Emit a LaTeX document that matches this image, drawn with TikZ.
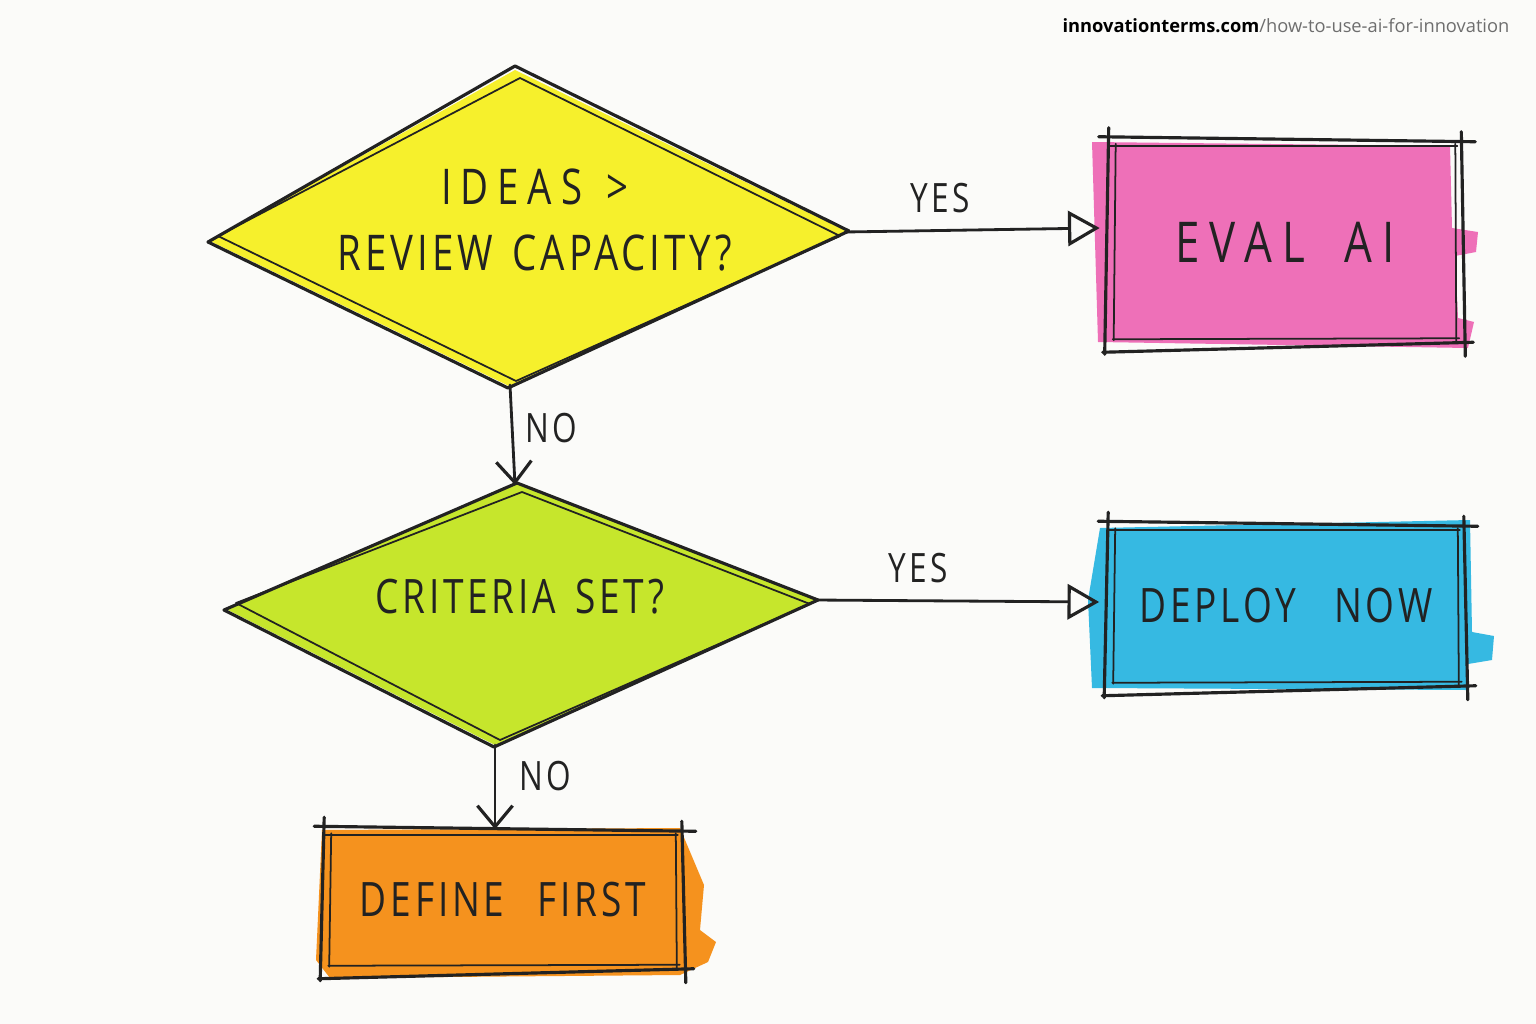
\documentclass[tikz,border=0pt]{standalone}
\usepackage{fontspec}
\setmainfont{Open Sans}
\newfontfamily\hand{Open Sans}[FakeStretch=0.78,LetterSpace=8]
\newfontfamily\handwide{Open Sans}[FakeStretch=0.78,LetterSpace=18]
\usetikzlibrary{arrows.meta}
\definecolor{bg}{HTML}{FBFBF9}
\definecolor{ideay}{HTML}{F6F02C}
\definecolor{lime}{HTML}{C6E62C}
\definecolor{pinkm}{HTML}{EE70B8}
\definecolor{cyanm}{HTML}{36B9E2}
\definecolor{orangem}{HTML}{F5921E}
\definecolor{inkc}{HTML}{222222}
\definecolor{urlgray}{HTML}{6E6E6E}
\begin{document}
\begin{tikzpicture}[x=0.01cm,y=-0.01cm,
  ink/.style={draw=inkc, line width=0.9pt, line join=round, line cap=round},
  thinink/.style={draw=inkc, line width=0.5pt, line join=round, line cap=round},
  box/.style={inner sep=0pt, text=inkc},
  lbl/.style={font=\hand\fontsize{11.5}{13}\selectfont, text=inkc},
  arr/.style={draw=inkc, line width=0.8pt, line cap=round, -{Triangle[open, length=9pt, width=10pt, line width=0.9pt]}},
  darr/.style={draw=inkc, line width=0.8pt, line cap=round, -{Straight Barb[length=6pt, width=10pt, line width=0.9pt]}}]
\useasboundingbox (0,0) rectangle (1536,1024);
\fill[bg] (0,0) rectangle (1536,1024);

% URL
\node[anchor=base east, inner sep=0pt, font=\fontsize{5.2}{6}\selectfont] (url) at (1510,32)
  {\textbf{innovationterms.com}\textcolor{urlgray}{/how-to-use-ai-for-innovation}};

% ---------- diamond 1 ----------
\coordinate (d1l) at (212,240);
\coordinate (d1t) at (515,72);
\coordinate (d1r) at (845,232);
\coordinate (d1b) at (510,385);
\fill[ideay] (210,241) -- (515,70) -- (846,231) -- (509,386) -- cycle;
\draw[ink] (208,242) -- (515,66) -- (849,231) -- (508,388) -- cycle;
\draw[thinink] (218,236) -- (520,78) -- (840,236) -- (516,381) -- cycle;
\node[font=\hand\fontsize{14}{19}\selectfont, text=inkc, align=center] (q1) at (535,220)
  {{\handwide IDEAS\hspace{0.5em}>}\\REVIEW\hspace{0.4em}CAPACITY?};

% ---------- diamond 2 ----------
\coordinate (d2l) at (228,608);
\coordinate (d2t) at (515,485);
\coordinate (d2r) at (815,600);
\coordinate (d2b) at (495,745);
\fill[lime] (226,609) -- (516,484) -- (816,600) -- (495,745) -- cycle;
\draw[ink] (224,610) -- (517,483) -- (818,600) -- (494,747) -- cycle;
\draw[thinink] (236,603) -- (522,492) -- (810,604) -- (500,740) -- cycle;
\node[font=\hand\fontsize{13.5}{18}\selectfont, text=inkc] (q2) at (520,597) {CRITERIA\hspace{0.4em}SET?};

% ---------- boxes ----------
\fill[pinkm] (1092,142) -- (1450,146) -- (1452,228) -- (1478,232) -- (1476,252) -- (1455,256) -- (1458,318) -- (1474,322) -- (1468,348) -- (1098,342) -- cycle;
\node[box, minimum width=3.55cm, minimum height=2.03cm, font=\handwide\fontsize{16}{18}\selectfont] (eval) at (1285,242) {EVAL\hspace{0.7em}AI};
\fill[cyanm] (1100,528) -- (1470,520) -- (1472,632) -- (1494,636) -- (1492,660) -- (1468,664) -- (1466,690) -- (1092,688) -- (1088,600) -- cycle;
\node[box, minimum width=3.58cm, minimum height=1.62cm, font=\hand\fontsize{13.5}{16}\selectfont] (deploy) at (1286,606) {DEPLOY\hspace{0.8em}NOW};
\fill[orangem] (322,830) -- (680,828) -- (704,885) -- (700,930) -- (716,942) -- (708,962) -- (680,975) -- (330,978) -- (316,960) -- cycle;
\node[box, minimum width=3.6cm, minimum height=1.4cm, font=\hand\fontsize{13.5}{16}\selectfont] (define) at (503,900) {DEFINE\hspace{0.7em}FIRST};

\newcommand\sketchbox[1]{%
  \draw[ink] ([shift={(-8,-3)}]#1.north west) -- ([shift={(12,2)}]#1.north east);
  \draw[ink] ([shift={(-4,8)}]#1.south west) -- ([shift={(10,-2)}]#1.south east);
  \draw[ink] ([shift={(2,-12)}]#1.north west) -- ([shift={(-2,10)}]#1.south west);
  \draw[ink] ([shift={(-2,-8)}]#1.north east) -- ([shift={(2,12)}]#1.south east);
  \draw[thinink] ([shift={(2,6)}]#1.north west) -- ([shift={(-6,6)}]#1.north east);
  \draw[thinink] ([shift={(6,-5)}]#1.south west) -- ([shift={(-4,-6)}]#1.south east);
  \draw[thinink] ([shift={(9,4)}]#1.north west) -- ([shift={(7,-4)}]#1.south west);
  \draw[thinink] ([shift={(-8,4)}]#1.north east) -- ([shift={(-7,-3)}]#1.south east);
}
\sketchbox{eval}
\sketchbox{deploy}
\sketchbox{define}

% ---------- connectors ----------
\coordinate (e1) at ([xshift=-2pt]eval.west |- 0,228);
\coordinate (e2) at ([xshift=-2pt]deploy.west |- 0,602);
\draw[arr] (d1r) -- (e1);
\node[lbl] (yes1) at (940,198) {YES};
\draw[arr] (d2r) -- (e2);
\node[lbl] (yes2) at (918,568) {YES};
\draw[darr] (d1b) -- (d2t);
\node[lbl] (no1) at (551,428) {NO};
\draw[darr] (d2b) -- (define.north -| d2b);
\node[lbl] (no2) at (545,776) {NO};
\end{tikzpicture}
\end{document}
